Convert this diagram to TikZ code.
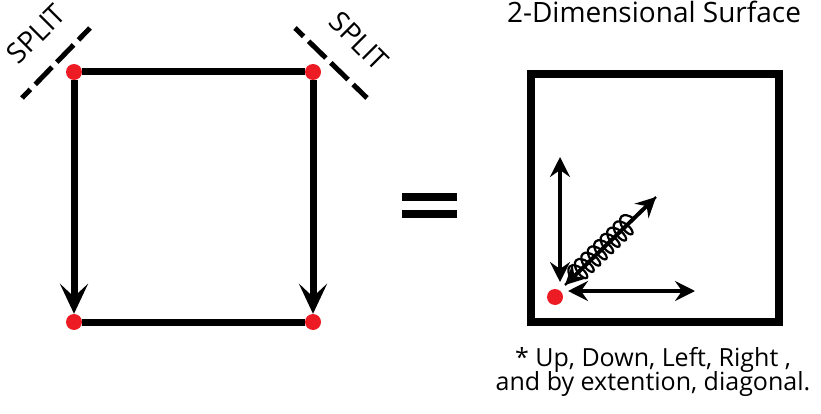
\documentclass[tikz,border=0pt]{standalone}
\usepackage{fontspec}
\setmainfont{Open Sans}
\usetikzlibrary{positioning, arrows.meta, decorations.pathmorphing}

\definecolor{dotred}{HTML}{ED1C24}

\begin{document}
\begin{tikzpicture}[x=1pt, y=-1pt,
    dot/.style={circle, fill=dotred, inner sep=0pt, minimum size=16pt},
    edge/.style={line width=7pt},
    splitline/.style={line width=5pt, dash pattern=on 24pt off 7pt, dash phase=12pt},
    label/.style={font=\fontsize{28}{32}\selectfont, inner sep=0pt},
    note/.style={font=\fontsize{25}{29}\selectfont, inner sep=0pt},
    dir/.style={line width=4pt, {Stealth[length=20pt, width=20pt, inset=7pt]}-{Stealth[length=20pt, width=20pt, inset=7pt]}}]
    \useasboundingbox (0,0) rectangle (821,414);

    % left square with its four corners
    \node[dot] (tl) at (74,72) {};
    \node[dot] (tr) at (313,72) {};
    \node[dot] (bl) at (74,322) {};
    \node[dot] (br) at (313,322) {};

    \draw[edge] (tl) -- (tr);
    \draw[edge] (bl) -- (br);
    \draw[edge, -{Stealth[length=30pt, width=28pt, inset=13pt]}] (tl) -- (bl);
    \draw[edge, -{Stealth[length=30pt, width=28pt, inset=13pt]}] (tr) -- (br);

    % split marks
    \coordinate (sl1) at (22,98);
    \coordinate (sl2) at (90,28);
    \coordinate (sr1) at (295,28);
    \coordinate (sr2) at (367,98);
    \draw[splitline] (sl1) -- (sl2);
    \draw[splitline] (sr1) -- (sr2);
    \node[label, rotate=45] (splitl) at (36,34) {SPLIT};
    \node[label, rotate=-45] (splitr) at (359,41) {SPLIT};

    % equals sign
    \fill (402,193) rectangle (457,201);
    \fill (402,210) rectangle (457,218);

    % surface
    \node[label, anchor=base] (title) at (654,23) {2-Dimensional Surface};
    \draw[line width=8pt] (531,74) rectangle (779,321.5);
    \node[dot] (origin) at (555,297) {};

    \coordinate (up) at (560,157);
    \coordinate (down) at (560,282);
    \coordinate (left) at (568,291);
    \coordinate (right) at (695,291);
    \coordinate (diagA) at (565,285);
    \coordinate (diagB) at (656,197);
    \draw[dir] (down) -- (up);
    \draw[dir] (left) -- (right);
    \draw[dir] (diagA) -- (diagB);
    \draw[line width=2.2pt, decorate, decoration={coil, aspect=0.5, segment length=9pt, amplitude=10pt,
        pre length=9pt, post length=24pt}] (diagA) -- (diagB);

    \node[note, anchor=base] (note1) at (653,366) {* Up, Down, Left, Right ,};
    \node[note, anchor=base] (note2) at (653,390) {and by extention, diagonal.};
\end{tikzpicture}
\end{document}
